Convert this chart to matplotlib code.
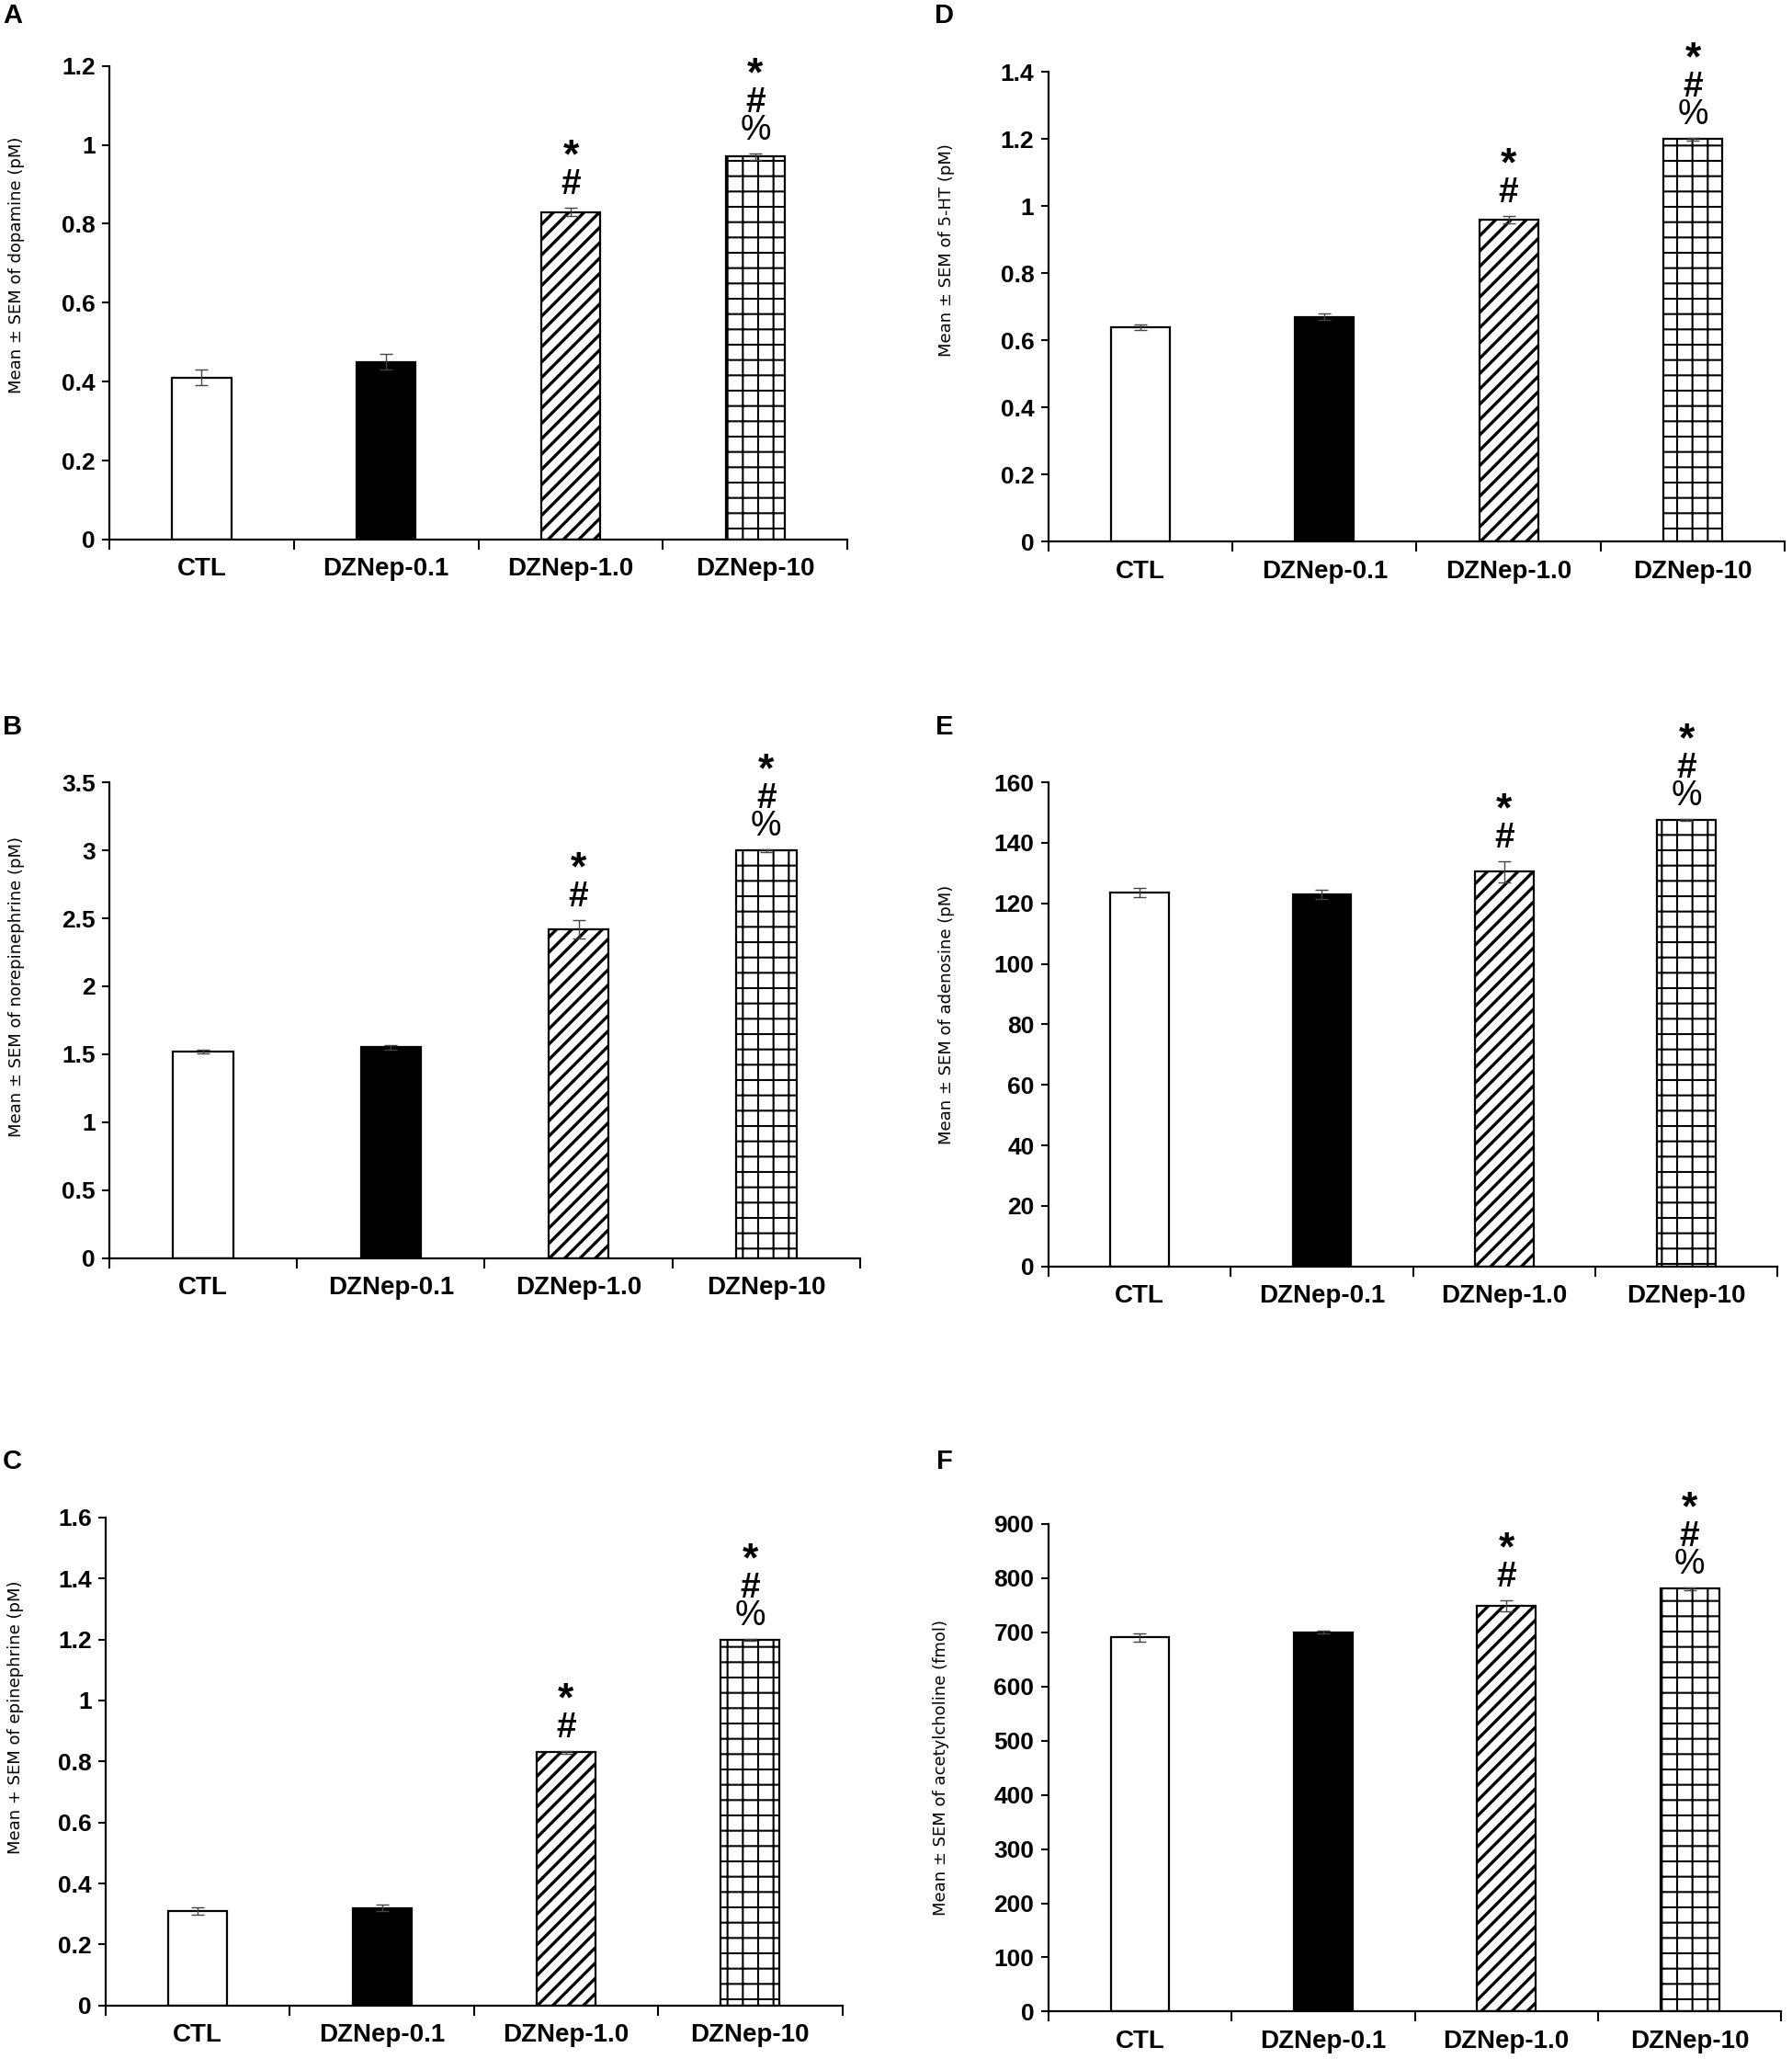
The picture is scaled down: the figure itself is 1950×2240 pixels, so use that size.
import matplotlib
matplotlib.use("Agg")
import matplotlib.pyplot as plt
from matplotlib.ticker import FuncFormatter, FixedLocator

# data
groups = ["CTL", "DZNep-0.1", "DZNep-1.0", "DZNep-10"]
signif = ["", "", "*#", "*#%"]

dopamine = [0.41, 0.45, 0.83, 0.97]
dopamine_err = [0.02, 0.02, 0.01, 0.008]

serotonin = [0.64, 0.67, 0.96, 1.20]
serotonin_err = [0.008, 0.01, 0.01, 0.005]

norepinephrine = [1.52, 1.55, 2.42, 3.00]
norepinephrine_err = [0.015, 0.015, 0.07, 0.01]

adenosine = [123.5, 123.0, 130.5, 147.5]
adenosine_err = [1.5, 1.5, 3.5, 0.3]

epinephrine = [0.31, 0.32, 0.83, 1.20]
epinephrine_err = [0.012, 0.01, 0.005, 0.003]

acetylcholine = [690, 700, 748, 780]
acetylcholine_err = [8, 3, 10, 3]

plain = "Liberation Sans"
plt.rcParams["hatch.linewidth"] = 2.4

fig = plt.figure(figsize=(19.5, 22.4), dpi=100)

# panel: letter, rect, values, err, ylim, ystep, ylabel, label x, label y, letter pos
panels = [
    ("A", [0.061, 0.738, 0.412, 0.230], dopamine, dopamine_err, 1.2, 0.2,
     "Mean \u00b1 SEM of dopamine (pM)", -0.114, 0.58, (0.007, 0.9925)),
    ("D", [0.585, 0.737, 0.411, 0.228], serotonin, serotonin_err, 1.4, 0.2,
     "Mean \u00b1 SEM of 5-HT (pM)", -0.127, 0.62, (0.527, 0.9925)),
    ("B", [0.061, 0.389, 0.419, 0.231], norepinephrine, norepinephrine_err, 3.5, 0.5,
     "Mean \u00b1 SEM of norepinephrine (pM)", -0.112, 0.57, (0.007, 0.647)),
    ("E", [0.585, 0.385, 0.407, 0.235], adenosine, adenosine_err, 160, 20,
     "Mean \u00b1 SEM of adenosine (pM)", -0.128, 0.52, (0.527, 0.647)),
    ("C", [0.059, 0.026, 0.411, 0.237], epinephrine, epinephrine_err, 1.6, 0.2,
     "Mean + SEM of epinephrine (pM)", -0.111, 0.59, (0.007, 0.290)),
    ("F", [0.585, 0.023, 0.409, 0.237], acetylcholine, acetylcholine_err, 900, 100,
     "Mean \u00b1 SEM of acetylcholine (fmol)", -0.135, 0.50, (0.527, 0.290)),
]

faces = ["white", "black", "white", "white"]
hatches = [None, None, "//", "+"]

for letter, rect, vals, errs, ymax, ystep, ylab, lx, ly, lpos in panels:
    ax = fig.add_axes(rect)
    x = list(range(len(groups)))
    bars = ax.bar(x, vals, width=0.32, color=faces, edgecolor="black",
                  linewidth=1.6, zorder=2)
    for b, h in zip(bars, hatches):
        if h:
            b.set_hatch(h)
            if h == "+" and hasattr(b, "set_hatch_linewidth"):
                b.set_hatch_linewidth(1.5)
    ax.errorbar(x, vals, yerr=errs, fmt="none", ecolor="#444444",
                elinewidth=1.0, capsize=5, capthick=1.0, zorder=3)

    for xi, v, e, s in zip(x, vals, errs, signif):
        for k, ch in enumerate(s[::-1]):
            if ch == "*":
                fs, fw = 32, "bold"
            elif ch == "#":
                fs, fw = 28, "bold"
            else:
                fs, fw = 27, "normal"
            ax.annotate(ch, (xi, v + e), xytext=(0, 25 + 30 * k),
                        textcoords="offset pixels", ha="center", va="center",
                        fontsize=fs, fontweight=fw,
                        family=[plain, "DejaVu Sans"], zorder=4)

    ax.set_xlim(-0.5, 3.5)
    ax.set_ylim(0, ymax)
    n = int(round(ymax / ystep))
    ax.yaxis.set_major_locator(FixedLocator([i * ystep for i in range(n + 1)]))
    ax.yaxis.set_major_formatter(FuncFormatter(lambda v, p: "{:g}".format(round(v, 3))))

    ax.set_xticks(x)
    ax.set_xticklabels(groups)
    ax.set_xticks([-0.5, 0.5, 1.5, 2.5, 3.5], minor=True)
    ax.tick_params(axis="x", which="major", length=0, pad=14)
    ax.tick_params(axis="x", which="minor", length=8, width=1.5, direction="out")
    ax.tick_params(axis="y", length=6, width=1.5, direction="out", pad=5)
    for t in ax.get_xticklabels():
        t.set_family([plain, "DejaVu Sans"])
        t.set_fontweight("bold")
        t.set_fontsize(20)
    for t in ax.get_yticklabels():
        t.set_family([plain, "DejaVu Sans"])
        t.set_fontweight("bold")
        t.set_fontsize(19)

    for side in ["top", "right"]:
        ax.spines[side].set_visible(False)
    for side in ["left", "bottom"]:
        ax.spines[side].set_linewidth(1.6)

    ax.set_ylabel(ylab, fontsize=13, family=["DejaVu Sans"])
    ax.yaxis.set_label_coords(lx, ly)

    fig.text(lpos[0], lpos[1], letter, ha="center", va="center", fontsize=21,
             fontweight="bold", family=[plain, "DejaVu Sans"])

fig.savefig("out.png", dpi=100, facecolor="white")
